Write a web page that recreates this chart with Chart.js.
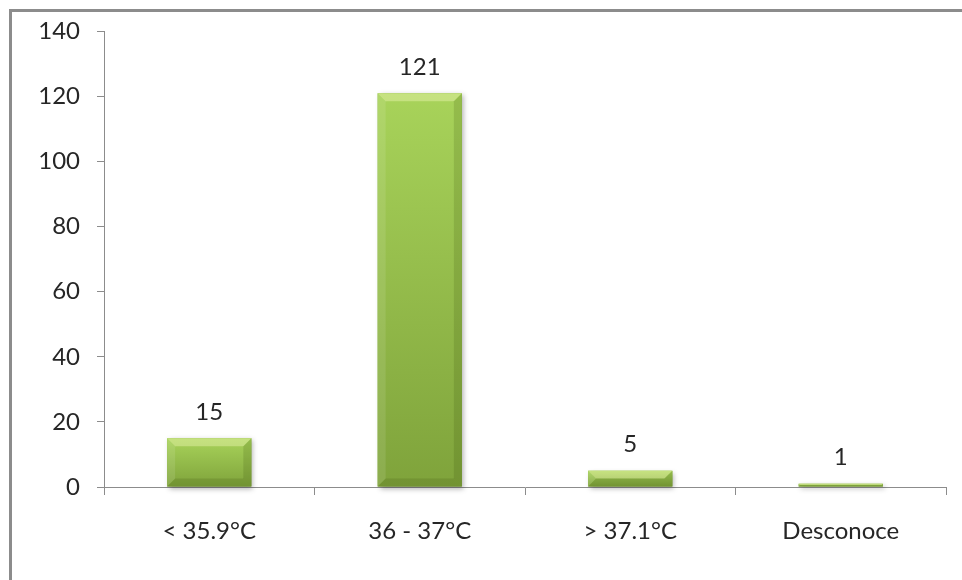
<!DOCTYPE html>
<html lang="es">
<head>
<meta charset="UTF-8">
<title>Temperatura</title>
<script src="https://cdn.jsdelivr.net/npm/chart.js"></script>
<style>
    html, body {
        margin: 0;
        padding: 0;
        background: #fff;
    }
    .frame {
        position: relative;
        width: 962px;
        height: 580px;
    }
    /* marco gris del gráfico (solo borde superior e izquierdo visibles) */
    .frame::before {
        content: "";
        position: absolute;
        left: 9px;
        top: 9px;
        right: -10px;
        bottom: -10px;
        border-top: 3px solid #8c8c8c;
        border-left: 3px solid #8c8c8c;
        pointer-events: none;
    }
    canvas {
        position: absolute;
        left: 0;
        top: 0;
    }
</style>
</head>
<body>
<div class="frame">
    <canvas id="tempChart" width="962" height="580"></canvas>
</div>
<script>
    // Datos
    const categorias = ['< 35.9°C', '36 - 37°C', '> 37.1°C', 'Desconoce'];
    const pacientes = [15, 121, 5, 1];
    const marcasY = [0, 20, 40, 60, 80, 100, 120, 140];

    const fuente = "Lato, 'Open Sans', sans-serif";
    const colorTexto = '#262626';
    const colorEje = '#8c8c8c';

    // Dibuja las barras con relieve (degradado + biseles) y la etiqueta de valor
    const barrasRelieve = {
        id: 'barrasRelieve',
        afterDatasetsDraw(chart) {
            const ctx = chart.ctx;
            const meta = chart.getDatasetMeta(0);
            meta.data.forEach((bar, i) => {
                const l = bar.x - bar.width / 2;
                const r = bar.x + bar.width / 2;
                const t = bar.y;
                const b = bar.base;
                const h = b - t;

                const grad = ctx.createLinearGradient(0, t, 0, b);
                grad.addColorStop(0, '#a8d35a');
                grad.addColorStop(1, '#7fa33b');

                ctx.save();
                ctx.shadowColor = 'rgba(0,0,0,0.3)';
                ctx.shadowBlur = 5;
                ctx.shadowOffsetX = 2;
                ctx.shadowOffsetY = 2;
                ctx.fillStyle = grad;
                ctx.fillRect(l, t, r - l, h);
                ctx.restore();

                const bv = Math.min(8, h / 2, bar.width / 2);
                const poly = (pts, color) => {
                    ctx.beginPath();
                    ctx.moveTo(pts[0][0], pts[0][1]);
                    for (let k = 1; k < pts.length; k++) ctx.lineTo(pts[k][0], pts[k][1]);
                    ctx.closePath();
                    ctx.fillStyle = color;
                    ctx.fill();
                };
                ctx.save();
                poly([[l, t], [r, t], [r - bv, t + bv], [l + bv, t + bv]], 'rgba(255,255,200,0.35)');
                poly([[l, t], [l + bv, t + bv], [l + bv, b - bv], [l, b]], 'rgba(255,255,255,0.1)');
                poly([[r, t], [r, b], [r - bv, b - bv], [r - bv, t + bv]], 'rgba(40,60,0,0.15)');
                poly([[l, b], [l + bv, b - bv], [r - bv, b - bv], [r, b]], 'rgba(40,60,0,0.15)');
                ctx.restore();

                ctx.save();
                ctx.fillStyle = colorTexto;
                ctx.font = '24px ' + fuente;
                ctx.textAlign = 'center';
                ctx.textBaseline = 'middle';
                ctx.fillText(String(pacientes[i]), bar.x, t - 26);
                ctx.restore();
            });
        }
    };

    new Chart(document.getElementById('tempChart'), {
        type: 'bar',
        data: {
            labels: categorias,
            datasets: [{
                data: pacientes,
                backgroundColor: '#8fbb45',
                borderWidth: 0,
                categoryPercentage: 1,
                barPercentage: 0.4
            }]
        },
        options: {
            responsive: false,
            animation: false,
            layout: {
                padding: { top: 27, right: 16, left: 0, bottom: 0 }
            },
            plugins: {
                legend: { display: false },
                tooltip: { enabled: false }
            },
            scales: {
                x: {
                    grid: {
                        offset: true,
                        drawOnChartArea: false,
                        drawTicks: true,
                        tickLength: 8,
                        color: colorEje
                    },
                    border: { display: true, color: colorEje, width: 1 },
                    ticks: {
                        color: colorTexto,
                        font: { family: fuente, size: 24 },
                        padding: 22,
                        maxRotation: 0
                    },
                    afterFit(scale) { scale.height = 93; }
                },
                y: {
                    min: 0,
                    max: 140,
                    afterBuildTicks(scale) {
                        scale.ticks = marcasY.map(v => ({ value: v }));
                    },
                    grid: {
                        drawOnChartArea: false,
                        drawTicks: true,
                        tickLength: 7,
                        color: colorEje
                    },
                    border: { display: true, color: colorEje, width: 1 },
                    ticks: {
                        color: colorTexto,
                        font: { family: fuente, size: 24 },
                        padding: 17
                    },
                    afterFit(scale) { scale.width = 104; }
                }
            }
        },
        plugins: [barrasRelieve]
    });
</script>
</body>
</html>
